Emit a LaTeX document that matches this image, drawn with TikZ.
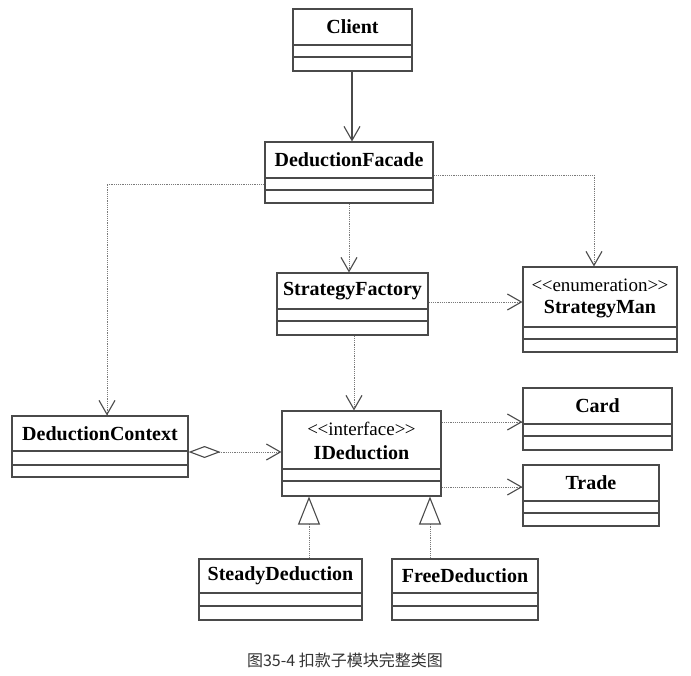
\documentclass[tikz,border=0pt]{standalone}
\usepackage{fontspec}
\setmainfont{Liberation Serif}
\newfontfamily\cjk{Noto Sans CJK SC}
\usetikzlibrary{arrows.meta,fit,calc}
\definecolor{linegray}{HTML}{4A4A4A}
\definecolor{dotgray}{HTML}{7A7A7A}
\tikzset{
  box/.style={draw=linegray, line width=1.1pt, inner sep=0pt, fill=white},
  divline/.style={draw=linegray, line width=1.1pt},
  cname/.style={font=\fontsize{20}{24}\selectfont\bfseries, inner sep=0pt, text=black},
  stereo/.style={font=\fontsize{19}{22}\selectfont, inner sep=0pt, text=black},
  assoc/.style={draw=linegray, line width=1.1pt, -{Straight Barb[length=14pt,width=16pt,line width=1.1pt]}},
  dep/.style={draw=dotgray, line width=1pt, dash pattern=on 1.2pt off 1pt,
     -{Straight Barb[length=14pt,width=16pt,line width=1.1pt,color=linegray]}},
  realize/.style={draw=dotgray, line width=1pt, dash pattern=on 1.2pt off 1pt,
     -{Triangle[open,length=28pt,width=22pt,line width=1.1pt,color=linegray]}},
  aggr/.style={draw=dotgray, line width=1pt, dash pattern=on 1.2pt off 1pt,
     {Diamond[open,length=32pt,width=12pt,line width=1.1pt,color=linegray]}-{Straight Barb[length=14pt,width=16pt,line width=1.1pt,color=linegray]}},
}
% #1 name, #2 x1, #3 y1, #4 x2, #5 y2, #6 div1, #7 div2, #8 label
\newcommand\umlbox[8]{%
  \node[box, fit={(#2,#3) (#4,#5)}] (#1) {};
  \draw[divline] (#2,#6) -- (#4,#6);
  \draw[divline] (#2,#7) -- (#4,#7);
  \node[cname] (#1-name) at ({(#2+#4)/2},{(#3+#6)/2}) {#8};
}
% stereotype variant: #9 stereotype text
\newcommand\umlsbox[9]{%
  \node[box, fit={(#2,#3) (#4,#5)}] (#1) {};
  \draw[divline] (#2,#6) -- (#4,#6);
  \draw[divline] (#2,#7) -- (#4,#7);
  \node[stereo] (#1-stereo) at ({(#2+#4)/2},{#3+18}) {#9};
  \node[cname] (#1-name) at ({(#2+#4)/2},{#3+42}) {#8};
}
\newcommand\stl{\textless\kern-0.5pt\textless}
\newcommand\stg{\textgreater\kern-0.5pt\textgreater}
\begin{document}
\begin{tikzpicture}[x=1pt,y=-1pt]
\useasboundingbox[fill=white] (0,0) rectangle (691,675);

\umlbox{client}{293}{9}{412}{71}{45}{57}{Client}
\umlbox{facade}{265}{142}{433}{203}{178}{190}{DeductionFacade}
\umlbox{sf}{277}{273}{428}{335}{309}{321}{StrategyFactory}
\umlsbox{sm}{523}{267}{677}{352}{327}{339}{StrategyMan}{\stl enumeration\stg}
\umlbox{dc}{12}{416}{188}{477}{451}{465}{DeductionContext}
\umlsbox{id}{282}{411}{441}{496}{469}{481}{IDeduction}{\stl interface\stg}
\umlbox{card}{523}{388}{672}{450}{424}{436}{Card}
\umlbox{trade}{523}{465}{659}{526}{501}{513}{Trade}
\umlbox{steady}{199}{559}{362}{620}{593}{606}{SteadyDeduction}
\umlbox{free}{392}{559}{538}{620}{593}{606}{FreeDeduction}

% connectors
\draw[assoc] ([xshift=-0.5pt]client.south) -- ([xshift=-0.5pt]client.south |- facade.north);
\draw[dep] (facade.south) -- (facade.south |- sf.north);
\draw[dep] ([yshift=-11.5pt]facade.west) -| ([xshift=7pt]dc.north);
\draw[dep] ([yshift=-2.5pt]facade.east) -| ([xshift=-6pt]sm.north);
\draw[dep] ([yshift=2pt]sf.east) -- ([yshift=2pt]sf.east -| sm.west);
\draw[dep] ([xshift=1.5pt]sf.south) -- ([xshift=1.5pt]sf.south |- id.north);
\draw[aggr] ([yshift=-5.5pt]dc.east) -- ([yshift=-5.5pt]dc.east -| id.west);
\draw[dep] ([yshift=31.5pt]id.east) -- ([yshift=31.5pt]id.east -| card.west);
\draw[dep] ([yshift=-33.5pt]id.east) -- ([yshift=-33.5pt]id.east -| trade.west);
\draw[realize] ([xshift=28.5pt]steady.north) -- ([xshift=28.5pt]steady.north |- id.south);
\draw[realize] ([xshift=-35pt]free.north) -- ([xshift=-35pt]free.north |- id.south);

\node[font=\cjk\fontsize{16}{18}\selectfont, text=black!80, inner sep=0pt] (caption) at (345,660) {图35-4 扣款子模块完整类图};
\end{tikzpicture}
\end{document}
